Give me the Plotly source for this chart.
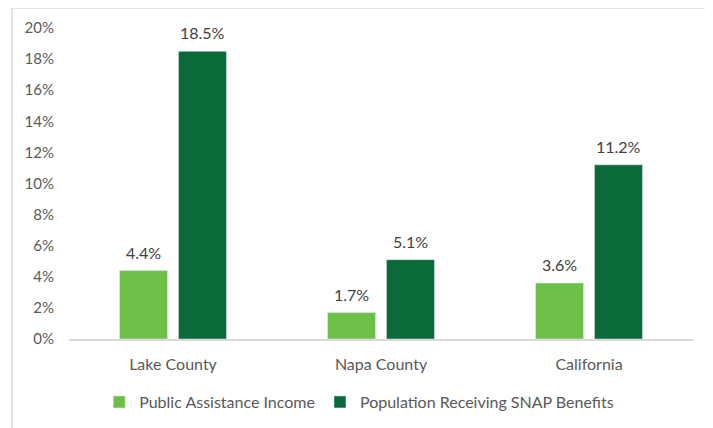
import plotly.graph_objects as go

categories = ["Lake County", "Napa County", "California"]
public_assistance = [4.4, 1.7, 3.6]
snap_benefits = [18.5, 5.1, 11.2]
tick_vals = [0, 2, 4, 6, 8, 10, 12, 14, 16, 18, 20]
tick_text = [f"{v}%" for v in tick_vals]

font_family = "Lato, Open Sans, sans-serif"
fs = 15
series = [
    ("Public Assistance Income", public_assistance, "#6CC04A", -29.5),
    ("Population Receiving SNAP Benefits", snap_benefits, "#0B6A3A", 29.5),
]

fig = go.Figure()
for name, vals, color, shift in series:
    fig.add_trace(go.Bar(name=name, x=categories, y=vals, marker_color=color))
    for cat, v in zip(categories, vals):
        fig.add_annotation(x=cat, y=v, text=f"{v:.1f}%", showarrow=False,
                           xshift=shift, yshift=7, yanchor="bottom",
                           font=dict(size=16, color="#404040"))

fig.update_layout(
    width=713, height=428,
    margin=dict(l=61, r=28, t=20, b=97, autoexpand=False),
    paper_bgcolor="white", plot_bgcolor="white",
    barmode="group", bargap=0.433, bargroupgap=0.186,
    font=dict(family=font_family, size=fs, color="#595959"),
    showlegend=True,
    legend=dict(orientation="h", x=0.465, xanchor="center", y=-0.2026, yanchor="middle",
                font=dict(size=16, color="#595959"), traceorder="normal"),
    xaxis=dict(showline=True, linecolor="#D9D9D9", linewidth=1.5, showgrid=False,
               ticks="", ticklabelstandoff=10, tickfont=dict(size=16, color="#595959")),
    yaxis=dict(range=[0, 20], tickvals=tick_vals, ticktext=tick_text, showgrid=False,
               showline=False, zeroline=False, ticks="", ticklabelstandoff=14,
               tickfont=dict(size=fs, color="#595959")),
    shapes=[dict(type="rect", xref="paper", yref="paper",
                 x0=-0.0913, x1=1.2, y0=-0.5, y1=1.0643,
                 line=dict(color="#D9D9D9", width=1.5), layer="below")],
)

fig.write_html("out.html")
